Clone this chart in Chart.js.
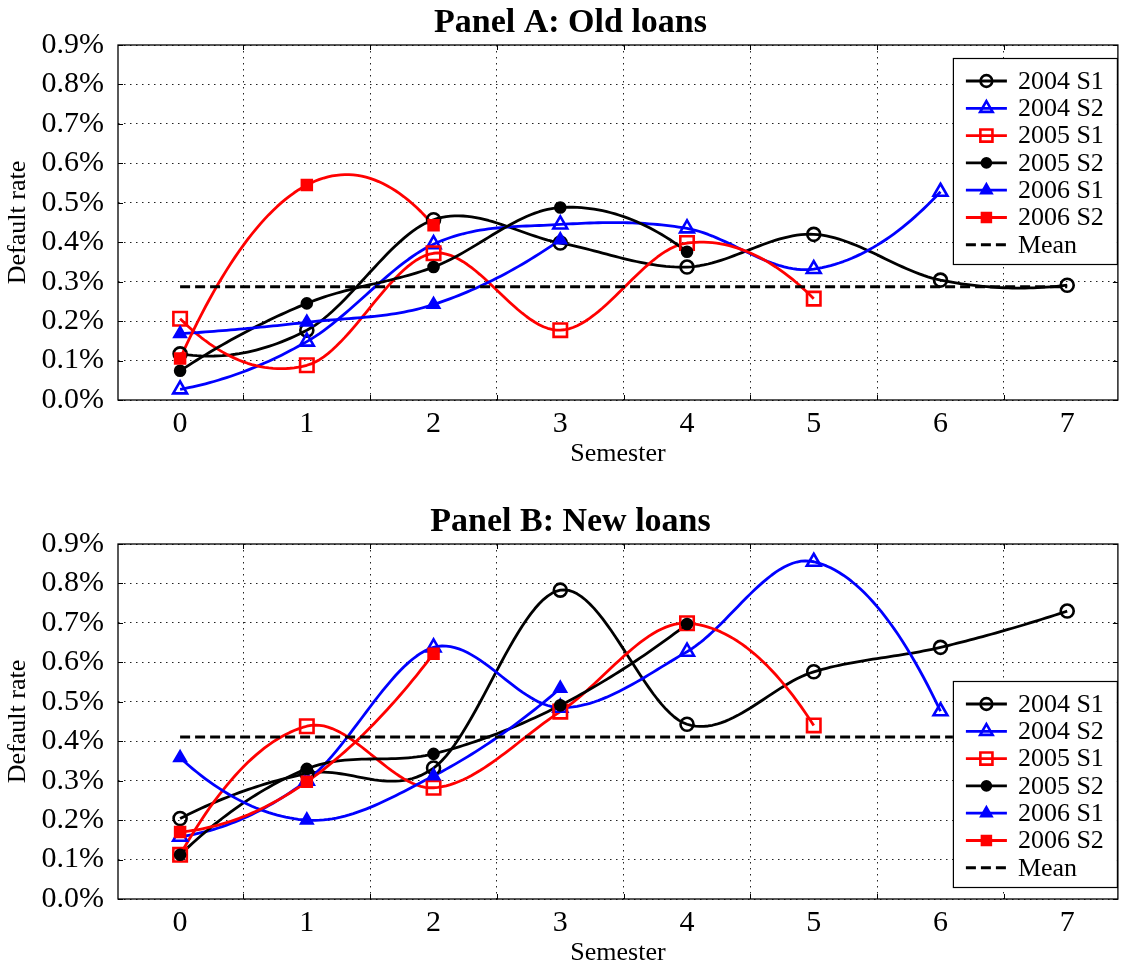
<!DOCTYPE html>
<html>
<head>
<meta charset="utf-8">
<title>Default rates by semester</title>
<script src="https://cdn.jsdelivr.net/npm/chart.js@4.4.1/dist/chart.umd.min.js"></script>
<style>
  html, body { margin: 0; padding: 0; background: #fff; overflow: hidden; }
  /* the x scale keeps a few px of right padding for its last label, so the canvas runs 3px past the window */
  .panel { position: absolute; left: 0; width: 1130px; height: 470px; }
  #panelA { top: 0; }
  #panelB { top: 499px; }
</style>
</head>
<body>
<div class="panel" id="panelA"><canvas id="chartA" width="1130" height="470"></canvas></div>
<div class="panel" id="panelB"><canvas id="chartB" width="1130" height="470"></canvas></div>
<script>
// semesters since origination, one label per cohort
const semesters = [0, 1, 2, 3, 4, 5, 6, 7];
const cohorts = ['2004 S1', '2004 S2', '2005 S1', '2005 S2', '2006 S1', '2006 S2'];
const rateTicks = [0, 0.1, 0.2, 0.3, 0.4, 0.5, 0.6, 0.7, 0.8, 0.9];

// default rate (%) of old loans
const old2004S1 = [0.117, 0.177, 0.457, 0.398, 0.337, 0.420, 0.304, 0.291];
const old2004S2 = [0.027, 0.148, 0.395, 0.445, 0.435, 0.332, 0.528];
const old2005S1 = [0.206, 0.088, 0.372, 0.177, 0.398, 0.257];
const old2005S2 = [0.074, 0.245, 0.337, 0.488, 0.376];
const old2006S1 = [0.168, 0.197, 0.242, 0.406];
const old2006S2 = [0.105, 0.545, 0.443];
const oldMean = 0.287;

// default rate (%) of new loans
const new2004S1 = [0.204, 0.318, 0.332, 0.783, 0.443, 0.576, 0.638, 0.730];
const new2004S2 = [0.158, 0.300, 0.638, 0.485, 0.627, 0.855, 0.476];
const new2005S1 = [0.112, 0.438, 0.282, 0.475, 0.699, 0.440];
const new2005S2 = [0.112, 0.330, 0.368, 0.491, 0.697];
const new2006S1 = [0.358, 0.200, 0.312, 0.534];
const new2006S2 = [0.170, 0.297, 0.622];
const newMean = 0.411;

const seriesStyles = [
  { color: '#000000', pointStyle: 'circle', filled: false, radius: 6.5 },
  { color: '#0000ff', pointStyle: 'triangle', filled: false, radius: 8 },
  { color: '#ff0000', pointStyle: 'rect', filled: false, radius: 9.5 },
  { color: '#000000', pointStyle: 'circle', filled: true, radius: 5 },
  { color: '#0000ff', pointStyle: 'triangle', filled: true, radius: 6.5 },
  { color: '#ff0000', pointStyle: 'rect', filled: true, radius: 7 },
];

Chart.defaults.font.family = '"Liberation Serif", "Times New Roman", serif';
Chart.defaults.color = '#000';

// Catmull-Rom slopes inside, parabolic slopes at both ends (unit spacing)
function curveSlopes(y) {
  const n = y.length;
  if (n < 2) return [0];
  if (n === 2) return [y[1] - y[0], y[1] - y[0]];
  const m = new Array(n).fill(0);
  for (let i = 1; i < n - 1; i++) m[i] = (y[i + 1] - y[i - 1]) / 2;
  m[0] = 2 * (y[1] - y[0]) - m[1];
  m[n - 1] = 2 * (y[n - 1] - y[n - 2]) - m[n - 2];
  return m;
}

// smooth cohort curves, drawn under the markers
const smoothLines = {
  id: 'smoothLines',
  beforeDatasetsDraw(chart) {
    const { ctx, chartArea, scales: { x, y } } = chart;
    ctx.save();
    ctx.beginPath();
    ctx.rect(chartArea.left, chartArea.top, chartArea.width, chartArea.height);
    ctx.clip();
    chart.data.datasets.forEach((ds) => {
      if (!ds.smooth) return;
      const xs = ds.data.map(p => p.x);
      const ys = ds.data.map(p => p.y);
      const m = curveSlopes(ys);
      ctx.beginPath();
      for (let i = 0; i < ys.length - 1; i++) {
        for (let k = 0; k <= 30; k++) {
          const t = k / 30;
          const t2 = t * t;
          const t3 = t2 * t;
          const v = (2 * t3 - 3 * t2 + 1) * ys[i] + (t3 - 2 * t2 + t) * m[i]
            + (-2 * t3 + 3 * t2) * ys[i + 1] + (t3 - t2) * m[i + 1];
          const px = x.getPixelForValue(xs[i] + t * (xs[i + 1] - xs[i]));
          const py = y.getPixelForValue(v);
          if (i === 0 && k === 0) ctx.moveTo(px, py); else ctx.lineTo(px, py);
        }
      }
      ctx.strokeStyle = ds.borderColor;
      ctx.lineWidth = ds.borderWidth;
      ctx.lineJoin = 'round';
      ctx.stroke();
    });
    ctx.restore();
  }
};

// closed axes box with small inward ticks
const frameBox = {
  id: 'frameBox',
  beforeDatasetsDraw(chart) {
    const { ctx, chartArea: a, scales: { x, y } } = chart;
    ctx.save();
    ctx.strokeStyle = '#000';
    ctx.lineWidth = 1.3;
    ctx.strokeRect(a.left, a.top, a.width, a.height);
    ctx.lineWidth = 1;
    ctx.beginPath();
    y.ticks.forEach(t => {
      const py = Math.round(y.getPixelForValue(t.value)) + 0.5;
      ctx.moveTo(a.left, py); ctx.lineTo(a.left + 5, py);
      ctx.moveTo(a.right, py); ctx.lineTo(a.right - 5, py);
    });
    x.ticks.forEach(t => {
      if (Number.isInteger(t.value)) return;
      const px = Math.round(x.getPixelForValue(t.value)) + 0.5;
      ctx.moveTo(px, a.bottom); ctx.lineTo(px, a.bottom - 5);
      ctx.moveTo(px, a.top); ctx.lineTo(px, a.top + 5);
    });
    ctx.stroke();
    ctx.restore();
  }
};

// boxed legend inside the plot area
const boxLegend = {
  id: 'boxLegend',
  afterDatasetsDraw(chart, args, opts) {
    const { ctx, chartArea } = chart;
    const w = 164;
    const h = 206;
    const left = chartArea.right - 1 - w;
    const top = opts.corner === 'top' ? chartArea.top + 13 : chartArea.bottom - 12 - h;
    ctx.save();
    ctx.fillStyle = '#fff';
    ctx.fillRect(left, top, w, h);
    ctx.strokeStyle = '#000';
    ctx.lineWidth = 1.2;
    ctx.strokeRect(left + 0.5, top + 0.5, w, h);
    chart.data.datasets.forEach((ds, i) => {
      const cy = top + 23 + i * 27.3;
      ctx.strokeStyle = ds.borderColor;
      ctx.lineWidth = ds.borderWidth;
      ctx.setLineDash(ds.borderDash || []);
      ctx.beginPath();
      ctx.moveTo(left + 13, cy);
      ctx.lineTo(left + 54, cy);
      ctx.stroke();
      ctx.setLineDash([]);
      if (ds.pointRadius > 0) {
        ctx.fillStyle = ds.pointBackgroundColor;
        ctx.strokeStyle = ds.pointBorderColor;
        ctx.lineWidth = ds.pointBorderWidth;
        Chart.helpers.drawPoint(ctx, {
          pointStyle: ds.pointStyle,
          radius: ds.pointRadius * 0.9,
          borderWidth: ds.pointBorderWidth,
          rotation: 0
        }, left + 33.5, cy);
      }
      ctx.fillStyle = '#000';
      ctx.font = '26px "Liberation Serif", serif';
      ctx.textBaseline = 'middle';
      ctx.textAlign = 'left';
      ctx.fillText(ds.label, left + 65, cy + 1);
    });
    ctx.restore();
  }
};

function makePanel(canvasId, title, series, mean, corner) {
  const datasets = series.map((values, i) => {
    const s = seriesStyles[i];
    return {
      label: cohorts[i],
      data: values.map((v, j) => ({ x: semesters[j], y: v })),
      smooth: true,
      showLine: false,
      order: -i,
      borderColor: s.color,
      borderWidth: 2.8,
      pointStyle: s.pointStyle,
      pointRadius: s.radius,
      pointBorderColor: s.color,
      pointBackgroundColor: s.filled ? s.color : 'rgba(0,0,0,0)',
      pointBorderWidth: 2.6,
    };
  });
  datasets.push({
    label: 'Mean',
    data: [
      { x: semesters[0], y: mean },
      { x: semesters[semesters.length - 1], y: mean }
    ],
    order: 1,
    borderColor: '#000',
    borderWidth: 3,
    borderDash: [10, 5],
    pointRadius: 0,
    tension: 0,
  });

  return new Chart(canvasId, {
    type: 'line',
    data: { datasets },
    plugins: [frameBox, smoothLines, boxLegend],
    options: {
      responsive: false,
      animation: false,
      devicePixelRatio: 1,
      // the extra left padding nudges the full-width title to the right
      layout: { padding: { left: 20, right: 9, top: 0, bottom: 0 } },
      plugins: {
        legend: { display: false },
        tooltip: { enabled: false },
        title: {
          display: true,
          text: title,
          color: '#000',
          font: { size: 34, weight: 'bold' },
          padding: { top: 3, bottom: 1.2 },
        },
        boxLegend: { corner },
      },
      scales: {
        x: {
          type: 'linear',
          min: -0.49,
          max: 7.4,
          afterBuildTicks: (scale) => {
            const vals = [];
            for (let v = 0; v <= 7; v += 0.5) vals.push(v);
            scale.ticks = vals.map(v => ({ value: v }));
          },
          afterFit: (scale) => {
            scale.height = 70;
            scale.paddingLeft = 0;
            scale.paddingRight = 0;
          },
          ticks: {
            autoSkip: false,
            maxRotation: 0,
            padding: 6,
            font: { size: 30 },
            callback: (v) => (Number.isInteger(v) ? String(v) : ''),
          },
          grid: {
            drawTicks: false,
            lineWidth: 1,
            color: (c) => (c.tick && !Number.isInteger(c.tick.value) ? '#222' : 'rgba(0,0,0,0)'),
          },
          border: { display: false, dash: [1.5, 4.5] },
          title: {
            display: true,
            text: 'Semester',
            font: { size: 26 },
            padding: { top: 0, bottom: 0 },
          },
        },
        y: {
          min: 0,
          max: 0.9,
          afterBuildTicks: (scale) => {
            scale.ticks = rateTicks.map(v => ({ value: v }));
          },
          afterFit: (scale) => { scale.width = 98; },
          ticks: {
            padding: 14,
            font: { size: 30 },
            callback: (v) => v.toFixed(1) + '%',
          },
          grid: {
            drawTicks: false,
            lineWidth: 1,
            color: '#222',
          },
          border: { display: false, dash: [1.5, 4.5] },
          title: {
            display: true,
            text: 'Default rate',
            font: { size: 26 },
            padding: { top: -17, bottom: 0 },
          },
        },
      },
    },
  });
}

makePanel('chartA', 'Panel A: Old loans',
  [old2004S1, old2004S2, old2005S1, old2005S2, old2006S1, old2006S2], oldMean, 'top');
makePanel('chartB', 'Panel B: New loans',
  [new2004S1, new2004S2, new2005S1, new2005S2, new2006S1, new2006S2], newMean, 'bottom');
</script>
</body>
</html>
